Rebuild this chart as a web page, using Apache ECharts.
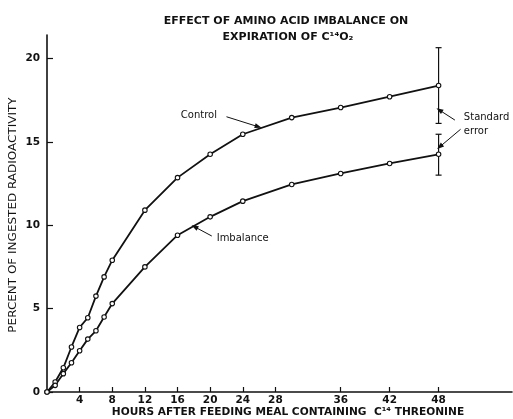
<!DOCTYPE html>
<html><head><meta charset="utf-8">
<script src="https://cdn.jsdelivr.net/npm/echarts@6/dist/echarts.min.js"></script>
<style>html,body{margin:0;padding:0;background:#fff}#c{width:513px;height:419px}</style>
</head><body><div id="c"></div>
<script>
// ---- data ----
const hours = [0, 1, 2, 3, 4, 5, 6, 7, 8, 12, 16, 20, 24, 30, 36, 42, 48];
const controlValues = [0, 0.6, 1.45, 2.7, 3.87, 4.45, 5.75, 6.9, 7.9, 10.9, 12.85, 14.25, 15.45, 16.45, 17.05, 17.7, 18.37];
const imbalanceValues = [0, 0.4, 1.1, 1.75, 2.47, 3.17, 3.67, 4.5, 5.3, 7.5, 9.4, 10.5, 11.44, 12.44, 13.1, 13.7, 14.25];
// standard error bars at 48 h: [hour, low, high]
const errorBars = [[48, 16.1, 20.64], [48, 13.0, 15.45]];
const xTickLabels = [4, 8, 12, 16, 20, 24, 28, 36, 42, 48];
const yTickLabels = [0, 5, 10, 15, 20];
const titleLines = ['EFFECT OF AMINO ACID IMBALANCE ON', 'EXPIRATION OF C\u00b9\u2074O\u2082'];
const xName = 'HOURS AFTER FEEDING MEAL CONTAINING  C\u00b9\u2074 THREONINE';
const yName = 'PERCENT OF INGESTED RADIOACTIVITY';

const font = 'DejaVu Sans';
const chart = echarts.init(document.getElementById('c'), null, {renderer: 'canvas'});

function pairs(xs, ys) { return xs.map((x, i) => [x, ys[i]]); }

const lineStyle = {color: '#111', width: 1.8};
const itemStyle = {color: '#fff', borderColor: '#111', borderWidth: 1.1};

function arrow(from, to) {
  return [{coord: from, symbol: 'none'}, {coord: to, symbol: 'triangle'}];
}

chart.setOption({
  animation: false,
  grid: {left: 47, right: 1, top: 35, bottom: 27},
  xAxis: {
    type: 'value', min: 0, max: 57,
    axisLine: {show: true, onZero: false, lineStyle: {color: '#111', width: 1.6}},
    axisTick: {show: true, inside: true, length: 5, customValues: xTickLabels, lineStyle: {color: '#111', width: 1.2}},
    axisLabel: {customValues: xTickLabels, color: '#111', fontFamily: font, fontSize: 10.5, fontWeight: 'bold', margin: 3},
    splitLine: {show: false}
  },
  yAxis: {
    type: 'value', min: 0, max: 21.4,
    axisLine: {show: true, lineStyle: {color: '#111', width: 1.6}},
    axisTick: {show: true, inside: true, length: 6, customValues: yTickLabels, lineStyle: {color: '#111', width: 1.2}},
    axisLabel: {customValues: yTickLabels, color: '#111', fontFamily: font, fontSize: 10.5, fontWeight: 'bold', margin: 7},
    splitLine: {show: false}
  },
  series: [
    {
      name: 'Control', type: 'line', data: pairs(hours, controlValues),
      symbol: 'circle', symbolSize: 4.5, lineStyle, itemStyle, z: 3,
      markLine: {
        silent: true, symbolSize: [5, 7], animation: false,
        lineStyle: {color: '#111', width: 1, type: 'solid'},
        label: {show: false},
        data: [
          arrow([22.0, 16.5], [25.9, 15.9]),
          arrow([20.2, 9.35], [18.1, 9.9]),
          arrow([50.0, 16.3], [48.1, 16.9]),
          arrow([50.7, 15.75], [48.15, 14.7])
        ]
      }
    },
    {
      name: 'Imbalance', type: 'line', data: pairs(hours, imbalanceValues),
      symbol: 'circle', symbolSize: 4.5, lineStyle, itemStyle, z: 3
    },
    {
      name: 'Standard error', type: 'custom', data: errorBars, z: 2,
      renderItem: function (params, api) {
        const x = api.value(0);
        const lo = api.coord([x, api.value(1)]);
        const hi = api.coord([x, api.value(2)]);
        const w = 3;
        const st = {stroke: '#111', lineWidth: 1.2};
        return {type: 'group', children: [
          {type: 'line', shape: {x1: lo[0], y1: lo[1], x2: hi[0], y2: hi[1]}, style: st},
          {type: 'line', shape: {x1: lo[0] - w, y1: lo[1], x2: lo[0] + w, y2: lo[1]}, style: st},
          {type: 'line', shape: {x1: hi[0] - w, y1: hi[1], x2: hi[0] + w, y2: hi[1]}, style: st}
        ]};
      }
    }
  ]
});

function px(x, y) { return chart.convertToPixel({gridIndex: 0}, [x, y]); }
const pControl = px(16.4, 16.6);
const pImb = px(20.8, 9.2);
const pStd = px(51.1, 16.45);
const pErr = px(51.1, 15.65);
const txt = (x, y, text, opts, extra) => Object.assign({type: 'text', x, y, style: Object.assign({text, fill: '#111', font: '10px ' + font, textVerticalAlign: 'middle'}, opts || {})}, extra || {});

chart.setOption({
  graphic: [
    txt(286, 21.5, titleLines[0], {textAlign: 'center', font: 'bold 10px ' + font}, {scaleX: 1.1}),
    txt(288, 37, titleLines[1], {textAlign: 'center', font: 'bold 10px ' + font}, {scaleX: 1.1}),
    txt(288, 412, xName, {textAlign: 'center', font: 'bold 10.5px ' + font}, {scaleX: 1.01}),
    {type: 'text', x: 13, y: 215, rotation: Math.PI / 2, scaleX: 1.09,
     style: {text: yName, fill: '#111', font: '11px ' + font, textAlign: 'center', textVerticalAlign: 'middle'}},
    txt(pControl[0], pControl[1], 'Control', {font: '10px ' + font}),
    txt(pImb[0], pImb[1], 'Imbalance', {font: '10px ' + font}),
    txt(pStd[0], pStd[1], 'Standard', {font: '10px ' + font}),
    txt(pErr[0], pErr[1], 'error', {font: '10px ' + font})
  ]
});
</script></body></html>
